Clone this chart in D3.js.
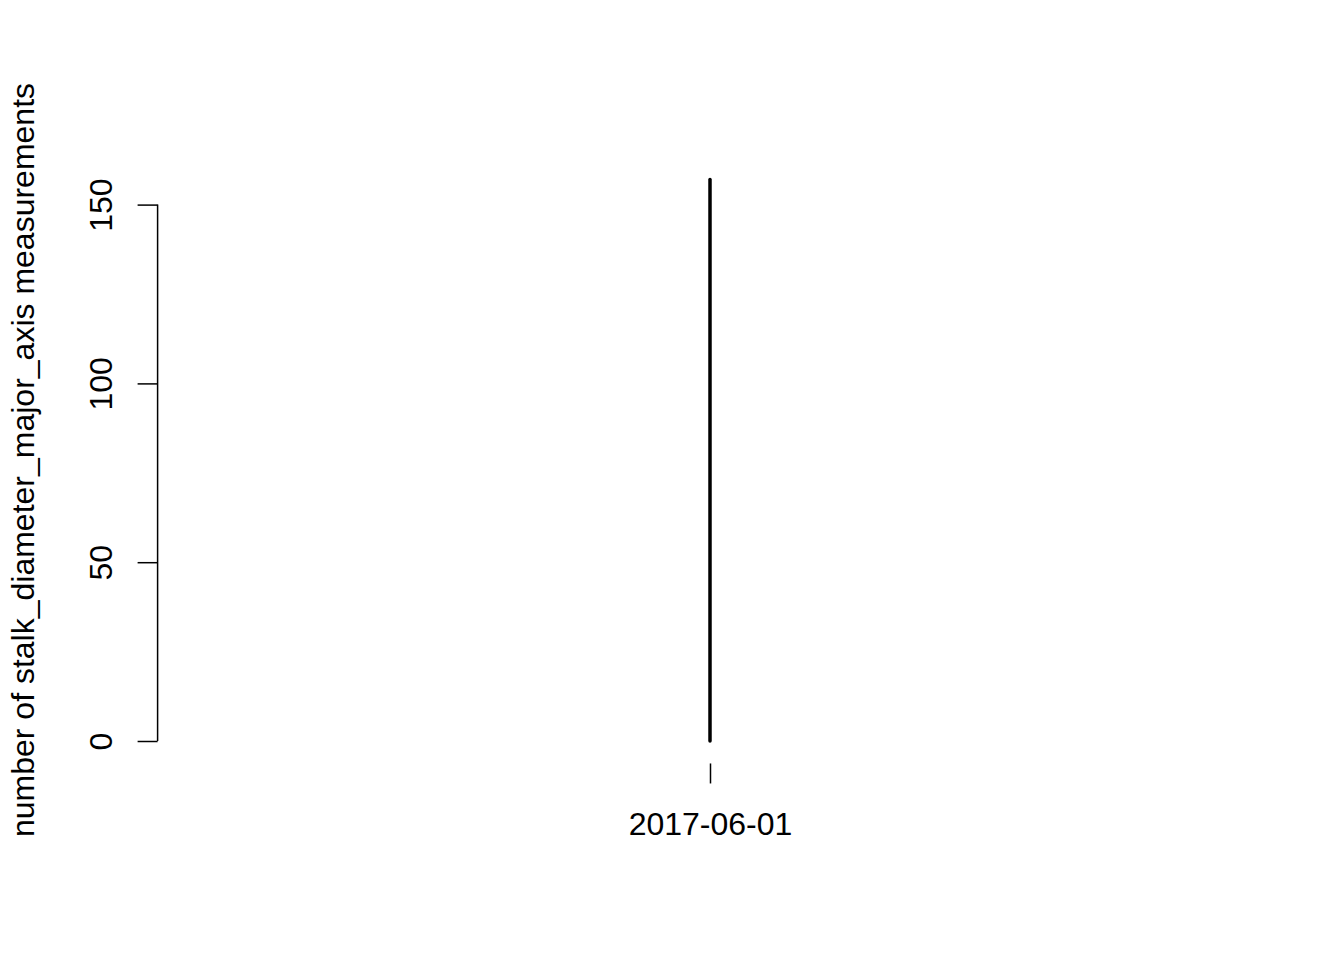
<!DOCTYPE html>
<html>
<head>
<meta charset="utf-8">
<script src="https://cdn.jsdelivr.net/npm/d3@7"></script>
<style>
  html, body { margin: 0; padding: 0; background: #fff; }
  svg { display: block; }
  text { font-family: "Liberation Sans", Arial, sans-serif; fill: #000; }
</style>
</head>
<body>
<svg id="chart" width="1344" height="960"></svg>
<script>
const dates = ["2017-06-01"];
const counts = [157];
const yTicks = [0, 50, 100, 150];
const yTitle = "number of stalk_diameter_major_axis measurements";

const svg = d3.select("#chart");
const parse = d3.timeParse("%Y-%m-%d");
const fmt = d3.timeFormat("%Y-%m-%d");
const dd = dates.map(parse);

const plotLeft = 157.6, plotRight = 1262.4;
const x = d3.scaleTime()
  .domain([d3.timeDay.offset(dd[0], -1), d3.timeDay.offset(dd[0], 1)])
  .range([plotLeft, plotRight]);
const y = d3.scaleLinear().domain([0, 150]).range([741, 204.6]);
const axisY = y(-6.28);

// y axis
const gy = svg.append("g").attr("transform", `translate(${plotLeft},0)`)
  .call(d3.axisLeft(y).tickValues(yTicks).tickSize(20).tickPadding(0).tickFormat(d3.format("d")));
gy.select(".domain").attr("d", `M0,${y(0)}V${y(150)}`).attr("stroke", "#000").attr("stroke-width", 1.5);
gy.selectAll(".tick line").attr("stroke", "#000").attr("stroke-width", 1.5);
gy.selectAll(".tick text")
  .attr("font-size", 32)
  .attr("x", 0).attr("y", 0)
  .attr("text-anchor", "middle")
  .attr("dy", null)
  .attr("transform", "translate(-46,0) rotate(-90)")
  .attr("font-family", "Liberation Sans, Arial, sans-serif");

// x axis
const gx = svg.append("g").attr("transform", `translate(0,${axisY})`)
  .call(d3.axisBottom(x).tickValues(dd).tickSize(20).tickPadding(0).tickFormat(fmt));
gx.select(".domain").remove();
gx.selectAll(".tick line").attr("stroke", "#000").attr("stroke-width", 1.5);
gx.selectAll(".tick text")
  .attr("font-size", 32)
  .attr("y", 71.5)
  .attr("dy", null)
  .attr("font-family", "Liberation Sans, Arial, sans-serif");

// bars (type = "h")
svg.append("g").selectAll("line").data(counts).join("line")
  .attr("x1", (d, i) => x(dd[i])).attr("x2", (d, i) => x(dd[i]))
  .attr("y1", y(0)).attr("y2", d => y(d))
  .attr("stroke", "#000").attr("stroke-width", 3.5).attr("stroke-linecap", "round");

// y title
svg.append("text")
  .attr("transform", `translate(34,460) rotate(-90)`)
  .attr("text-anchor", "middle")
  .attr("font-size", 32)
  .text(yTitle);
</script>
</body>
</html>
